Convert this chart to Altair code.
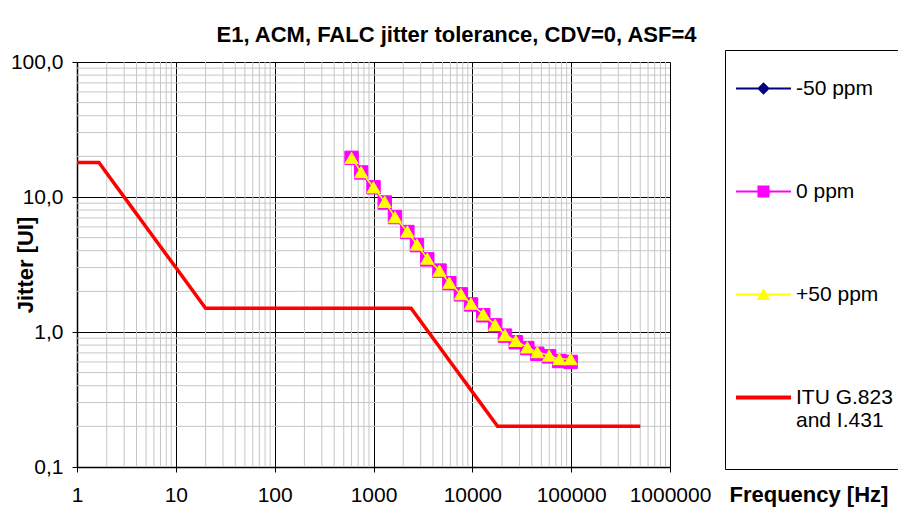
import altair as alt
import pandas as pd

# ---------------- data ----------------
freq_meas = [600, 750, 1000, 1300, 1650, 2200, 2750, 3500, 4650, 5850, 7650,
             9700, 12900, 17000, 21400, 27500, 36000, 45400, 59700, 75800, 98800]
jit_minus50 = [19.3, 15.0, 11.6, 9.0, 7.0, 5.45, 4.3, 3.4, 2.8, 2.25, 1.87,
               1.57, 1.31, 1.1, 0.93, 0.83, 0.75, 0.68, 0.65, 0.6, 0.6]
jit_zero = [19.5, 15.2, 11.8, 9.1, 7.1, 5.5, 4.4, 3.45, 2.85, 2.3, 1.9,
            1.6, 1.33, 1.12, 0.94, 0.84, 0.76, 0.69, 0.66, 0.61, 0.6]
jit_plus50 = [19.5, 15.3, 11.8, 9.2, 7.1, 5.55, 4.45, 3.5, 2.85, 2.32, 1.91,
              1.62, 1.35, 1.13, 0.95, 0.86, 0.77, 0.71, 0.67, 0.63, 0.63]

freq_itu = [1, 1.667, 2, 4, 5, 10, 20, 100, 1000, 2400, 5000, 6000, 10000, 18000, 100000, 500000]
jit_itu = [18, 18, 15, 7.5, 6, 3, 1.5, 1.5, 1.5, 1.5, 0.72, 0.6, 0.36, 0.2, 0.2, 0.2]

series_names = ["-50 ppm", "0 ppm", "+50 ppm", "ITU G.823 and I.431"]
series_colors = ["#000080", "#FF00FF", "#FFFF00", "#FF0000"]

x_ticks = [1, 10, 100, 1000, 10000, 100000, 1000000]
y_ticks = [0.1, 1, 10, 100]
x_minor = [k * 10 ** e for e in range(0, 6) for k in range(2, 10)]
y_minor = [k * 10 ** e for e in range(-1, 2) for k in range(2, 10)]

title_text = "E1, ACM, FALC jitter tolerance, CDV=0, ASF=4"

# ---------------- frames ----------------
meas = pd.DataFrame({"f": freq_meas, "m50": jit_minus50, "z": jit_zero, "p50": jit_plus50})
itu = pd.DataFrame({"f": freq_itu, "ui": jit_itu})
legend_df = pd.DataFrame({"series": series_names})
xminor_df = pd.DataFrame({"f": x_minor})
yminor_df = pd.DataFrame({"ui": y_minor})

FONT = "Arial"
W, H = 593, 405

xs = alt.Scale(type="log", domain=[1, 1000000], nice=False)
ys = alt.Scale(type="log", domain=[0.1, 100], nice=False)

x_axis = alt.Axis(values=x_ticks, format="d", title="Frequency [Hz]",
                  titleX=652, titleY=27, titleAlign="left", titleBaseline="middle",
                  grid=True, gridColor="black", gridWidth=1,
                  tickColor="black", tickSize=5, domainColor="black", domainWidth=1.5,
                  labelPadding=12, labelFlush=False, labelOverlap=False)
y_axis = alt.Axis(values=y_ticks, title="Jitter [UI]",
                  labelExpr="replace(format(datum.value, '.1f'), '.', ',')",
                  titleX=-52, titleY=H / 2, titleBaseline="middle",
                  grid=True, gridColor="black", gridWidth=1,
                  tickColor="black", tickSize=5, domainColor="black", domainWidth=1.5,
                  labelPadding=9, labelFlush=False, labelOverlap=False)

minor_x = alt.Chart(xminor_df).mark_rule(color="#c6c6c6", strokeWidth=1).encode(
    x=alt.X("f:Q", scale=xs, axis=x_axis))
minor_y = alt.Chart(yminor_df).mark_rule(color="#c6c6c6", strokeWidth=1).encode(
    y=alt.Y("ui:Q", scale=ys, axis=y_axis))

itu_line = alt.Chart(itu).mark_line(color="#FF0000", strokeWidth=3.5).encode(
    x=alt.X("f:Q", scale=xs), y=alt.Y("ui:Q", scale=ys))

layers = [minor_x, minor_y, itu_line]
specs = [("m50", "#000080", "diamond", 110),
         ("z", "#FF00FF", "square", 180),
         ("p50", "#FFFF00", "triangle-up", 170)]
for col, colr, shp, sz in specs:
    base = alt.Chart(meas).encode(x=alt.X("f:Q", scale=xs), y=alt.Y(f"{col}:Q", scale=ys))
    layers.append(base.mark_line(color=colr, strokeWidth=1.5))
    layers.append(base.mark_point(shape=shp, filled=True, size=sz, color=colr,
                                  stroke=colr, strokeWidth=1, opacity=1))

# legend-only layer (no marks drawn)
line_thin = "M-1,-0.035H1V0.035H-1Z"
shape_paths = [
    line_thin + " M-0.23,0L0,-0.23L0.23,0L0,0.23Z",
    line_thin + " M-0.22,-0.22H0.22V0.22H-0.22Z",
    line_thin + " M0,-0.23L0.25,0.2H-0.25Z",
    "M-1,-0.075H1V0.075H-1Z",
]
leg = alt.Legend(orient="none", legendX=648, legendY=-12, title=" ",
                 titleOrient="bottom", titleFontSize=22, titlePadding=6,
                 strokeColor="black", fillColor="white", padding=11,
                 rowPadding=65, symbolSize=3025, symbolStrokeWidth=0,
                 labelOffset=5, labelFontSize=21, labelFont=FONT, labelColor="black",
                 labelLimit=300,
                 labelExpr="datum.label == 'ITU G.823 and I.431' ? ['ITU G.823', 'and I.431'] : datum.label")
legend_layer = alt.Chart(legend_df).transform_filter("false").mark_point(
    filled=True, opacity=1).encode(
    color=alt.Color("series:N", scale=alt.Scale(domain=series_names, range=series_colors),
                    sort=series_names, legend=leg),
    shape=alt.Shape("series:N", scale=alt.Scale(domain=series_names, range=shape_paths),
                    sort=series_names, legend=leg),
)
layers.append(legend_layer)

chart = alt.layer(*layers).properties(
    width=W, height=H,
    title=alt.TitleParams(title_text, anchor="middle", dx=83, fontSize=22, font=FONT,
                          fontWeight="bold", color="black", offset=3),
    autosize=alt.AutoSizeParams(type="none"),
    padding={"left": 69, "top": 54, "right": 228, "bottom": 47},
    background="white",
).configure_axis(
    labelFont=FONT, labelFontSize=21, labelColor="black",
    titleFont=FONT, titleFontSize=22, titleFontWeight="bold", titleColor="black",
).configure_view(stroke=None)

chart.save("out.html", embed_options={"renderer": "svg", "actions": False})
